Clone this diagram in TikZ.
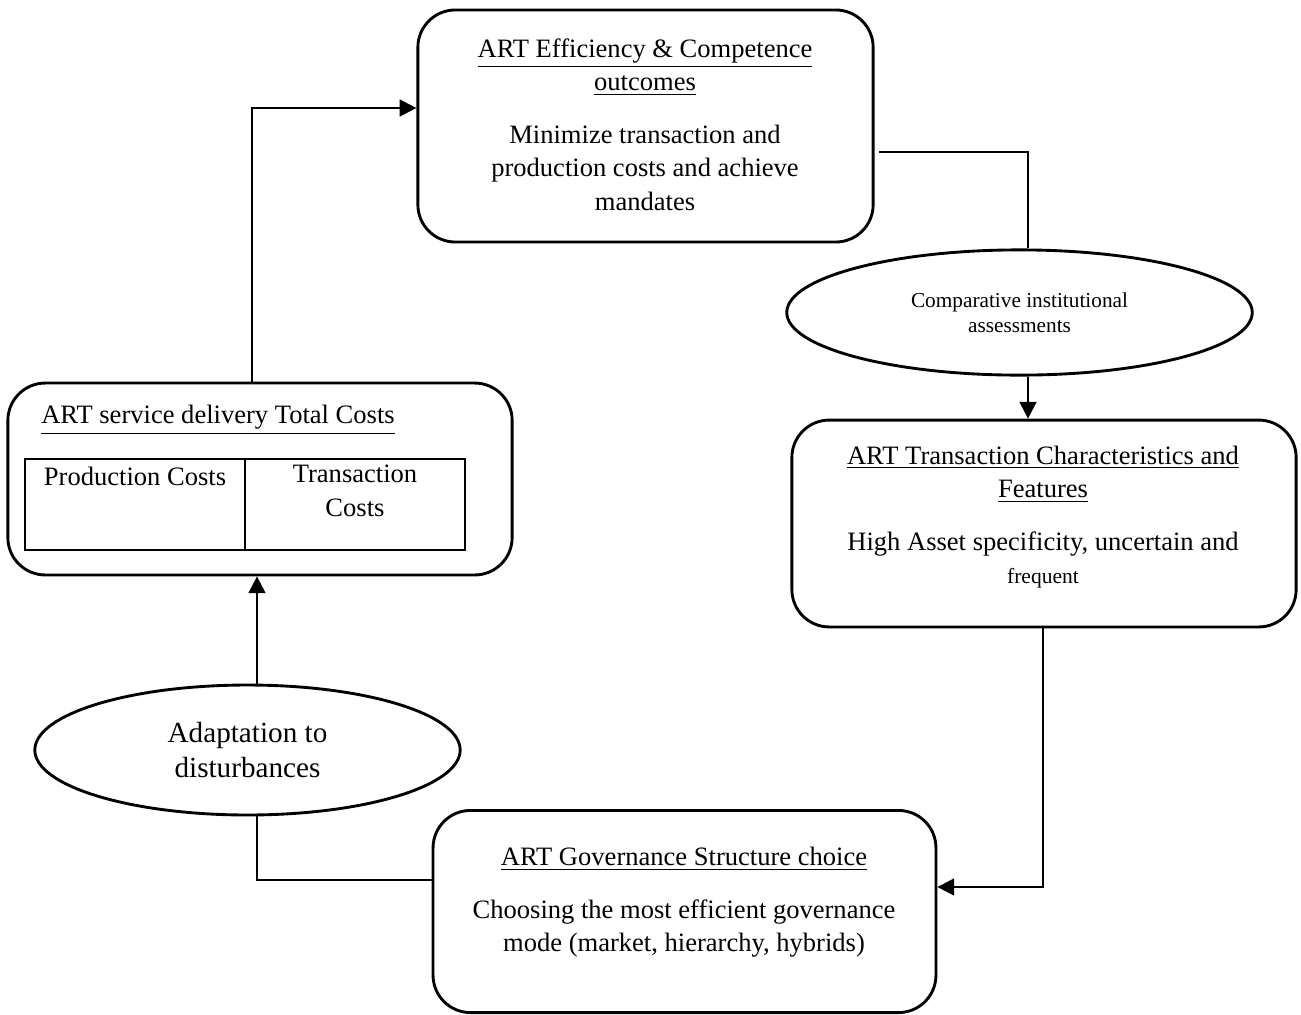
\documentclass[tikz,border=0pt]{standalone}
\usepackage{fontspec}
\setmainfont{Liberation Serif}
\usetikzlibrary{arrows.meta,shapes.geometric}

\begin{document}
\begin{tikzpicture}[x=0.0147cm,y=-0.0147cm,
  box/.style={draw,line width=1.2pt,rounded corners=0.55cm,inner sep=0pt},
  oval/.style={draw,ellipse,line width=1.2pt,align=center,inner sep=0pt},
  cell/.style={draw,line width=1pt,inner sep=0pt,minimum width=3.23cm,minimum height=1.34cm},
  txt/.style={align=center,inner sep=0pt,font=\fontsize{11.1}{14}\selectfont},
  link/.style={line width=1pt},
  arr/.style={link,-{Triangle[length=7pt,width=7pt]}}]
\useasboundingbox (0,0) rectangle (1301,1014);

% boxes
\node[box,minimum width=6.69cm,minimum height=3.41cm] (eff) at (645.5,126) {};
\node[box,minimum width=7.41cm,minimum height=3.04cm] (trans) at (1044,523.5) {};
\node[box,minimum width=7.39cm,minimum height=2.97cm] (gov) at (684.5,911.5) {};
\node[box,minimum width=7.41cm,minimum height=2.82cm] (cost) at (260,479) {};

% ovals
\node[oval,minimum width=6.84cm,minimum height=1.84cm,font=\fontsize{8.9}{10.5}\selectfont] (comp) at (1019.5,312.5)
  {Comparative institutional\\ assessments};
\node[oval,minimum width=6.25cm,minimum height=1.91cm,font=\fontsize{12.2}{14.6}\selectfont] (adapt) at (247.5,750)
  {Adaptation to\\ disturbances};

% texts
\node[txt] (efftxt) at (645,124.5) {\underline{ART Efficiency \& Competence}\\ \underline{outcomes}\\[8pt]
  Minimize transaction and\\ production costs and achieve\\ mandates};
\node[txt] (transtxt) at (1043,517) {\underline{ART Transaction Characteristics and}\\ \underline{Features}\\[8pt]
  High Asset specificity, uncertain and\\ {\fontsize{9}{11}\selectfont frequent}};
\node[txt] (govtxt) at (684,902.5) {\underline{ART Governance Structure choice}\\[8pt]
  Choosing the most efficient governance\\ mode (market, hierarchy, hybrids)};
\node[txt] (costtxt) at (218,420) {\underline{ART service delivery Total Costs}};

% table
\node[cell] (prod) at (135,504.5) {};
\node[cell] (tcost) at (355,504.5) {};
\node[txt] (prodtxt) at (135,476) {Production Costs};
\node[txt] (tcosttxt) at (355,491) {Transaction\\ Costs};

% connectors
\coordinate (c1) at (252,108);
\coordinate (c2) at (1028,152);
\coordinate (c3) at (1043,887);
\coordinate (c4) at (257,880);

\draw[arr] (c1 |- cost.north) |- (eff.west |- c1);
\draw[link] ([xshift=0.07cm]eff.east |- c2) -| (c2 |- comp.north);
\draw[arr] (c2 |- comp.south) -- (c2 |- trans.north);
\draw[arr] (c3 |- trans.south) |- (gov.east |- c3);
\draw[link] (gov.west |- c4) -| (c4 |- adapt.south);
\draw[arr] (c4 |- adapt.north) -- (c4 |- cost.south);

\end{tikzpicture}
\end{document}
